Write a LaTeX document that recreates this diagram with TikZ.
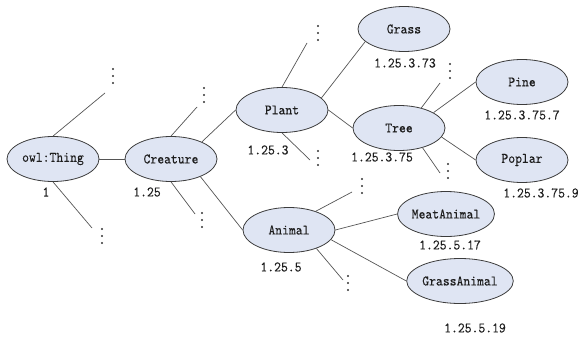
\documentclass[tikz,border=0pt]{standalone}
\usepackage{fontspec}
\usetikzlibrary{shapes.geometric}
\newfontfamily\codefont[FakeStretch=0.9,FakeBold=0.15]{lmmono10-regular.otf}
\definecolor{cellfill}{RGB}{223,229,243}
\definecolor{celledge}{RGB}{60,60,60}
\definecolor{linkgray}{RGB}{85,85,85}
\definecolor{inkdark}{RGB}{30,30,30}
\tikzset{
  concept/.style={ellipse, draw=celledge, line width=0.8pt, fill=cellfill,
    minimum width=92pt, minimum height=45pt, inner sep=0pt, text=inkdark,
    font=\fontsize{14.5}{14.5}\codefont},
  code/.style={inner sep=0pt, text=inkdark, font=\fontsize{14.5}{14.5}\codefont},
  link/.style={draw=linkgray, line width=0.7pt},
  vdts/.pic={\foreach \k in {-7,0,7} \fill[black!80] (0,\k) circle (1.1pt);}
}
\begin{document}
\begin{tikzpicture}[x=1pt,y=-1pt]
\useasboundingbox (0,0) rectangle (580,337);

% concept nodes
\node[concept] (thing)    at (53,159)  {owl:Thing};
\node[concept] (creature) at (171,159) {Creature};
\node[concept] (plant)    at (282,110) {Plant};
\node[concept] (grass)    at (404,29)  {Grass};
\node[concept] (tree)     at (399,128) {Tree};
\node[concept] (pine)     at (522,82)  {Pine};
\node[concept] (poplar)   at (522,160) {Poplar};
\node[concept] (animal)   at (289,230) {Animal};
\node[concept] (meat)     at (446,214) {MeatAnimal};
\node[concept, minimum width=102pt] (grassanimal) at (460,281) {GrassAnimal};

% codes
\node[code] (cthing)    at (46,192)  {1};
\node[code] (ccreature) at (147,192) {1.25};
\node[code] (cplant)    at (268,150) {1.25.3};
\node[code] (cgrass)    at (405,63)  {1.25.3.73};
\node[code] (ctree)     at (382,157) {1.25.3.75};
\node[code] (cpine)     at (522,115) {1.25.3.75.7};
\node[code] (cpoplar)   at (541,193) {1.25.3.75.9};
\node[code] (canimal)   at (281,267) {1.25.5};
\node[code] (cmeat)     at (450,245) {1.25.5.17};
\node[code] (cgrassan)  at (475,328) {1.25.5.19};

% open ends of the elided branches
\coordinate (thingup)  at (105,93);
\coordinate (thingdn)  at (92,228);
\coordinate (creatup)  at (197,107);
\coordinate (creatdn)  at (195,214);
\coordinate (plantup)  at (307,43);
\coordinate (plantdn)  at (310,160);
\coordinate (treeup)   at (440,83);
\coordinate (treedn)   at (440,173);
\coordinate (animup)   at (352,192);
\coordinate (animdn)   at (343,280);

% links
\draw[link] (thing.east) -- (creature.west);
\draw[link] (thing.north) -- (thingup);
\draw[link] (thing.south) -- (thingdn);
\draw[link] (creature.north) -- (creatup);
\draw[link] (creature.south) -- (creatdn);
\draw[link] (creature.29) -- (plant.west);
\draw[link] (creature.-31) -- (animal.west);
\draw[link] (plant.north) -- (plantup);
\draw[link] (plant.south) -- (plantdn);
\draw[link] (plant.17) -- (grass.198);
\draw[link] (plant.east) -- (tree.west);
\draw[link] (tree.42) -- (treeup);
\draw[link] (tree.-40) -- (treedn);
\draw[link] (tree.24) -- (pine.west);
\draw[link] (tree.-12) -- (poplar.west);
\draw[link] (animal.35) -- (animup);
\draw[link] (animal.-34) -- (animdn);
\draw[link] (animal.east) -- (meat.west);
\draw[link] (animal.-13) -- (grassanimal.west);

% elision marks
\pic at (113,76)  {vdts};
\pic at (102,236) {vdts};
\pic at (204,95)  {vdts};
\pic at (202,220) {vdts};
\pic at (318,33)  {vdts};
\pic at (318,158) {vdts};
\pic at (450,71)  {vdts};
\pic at (448,171) {vdts};
\pic at (362,186) {vdts};
\pic at (348,283) {vdts};
\end{tikzpicture}
\end{document}
